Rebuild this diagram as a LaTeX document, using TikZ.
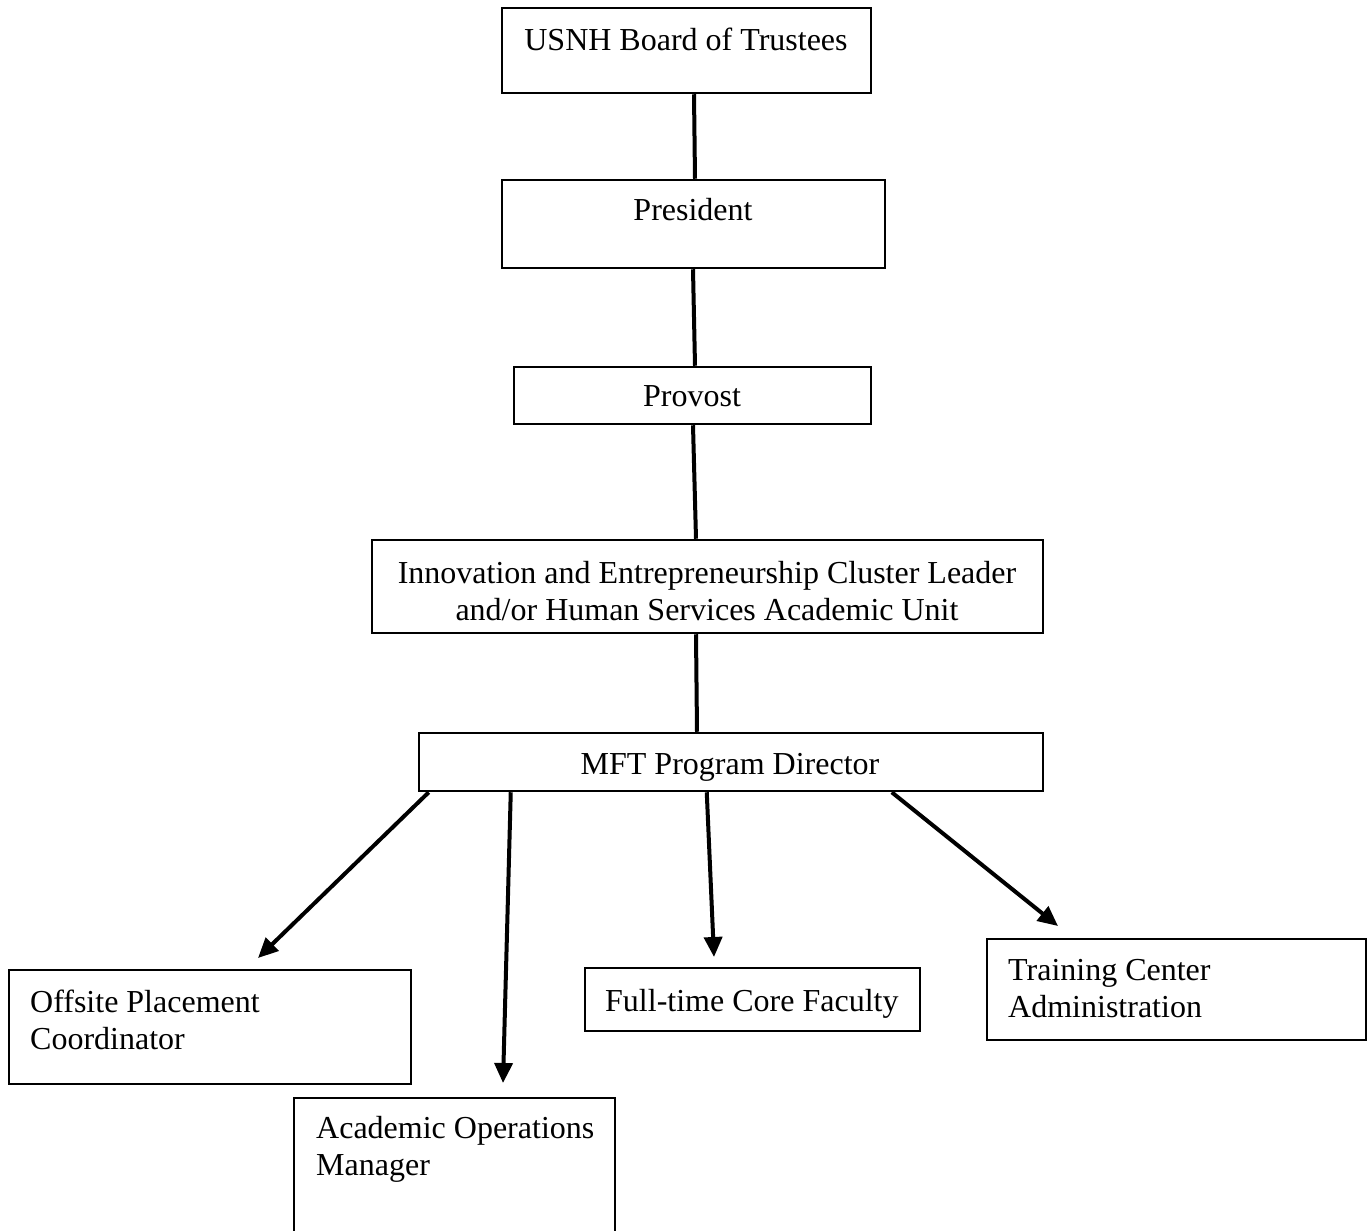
\documentclass[tikz,border=0pt]{standalone}
\usepackage{fontspec}
\setmainfont{Liberation Serif}
\usetikzlibrary{arrows.meta,calc}
\begin{document}
\begin{tikzpicture}[x=1pt,y=-1pt,
  boxst/.style={draw=black,line width=2.5pt,inner sep=0pt,rectangle},
  txt/.style={inner sep=0pt,font=\fontsize{32}{37}\selectfont,align=left},
  link/.style={line width=4pt},
  arr/.style={line width=4pt,-{Triangle[length=20pt,width=18pt]}}]
\useasboundingbox (0,0) rectangle (1369,1231);
% boxes
\node[boxst,minimum width=369pt,minimum height=85pt] (b1) at (686.5,50.5) {};
\node[boxst,minimum width=383pt,minimum height=88pt] (b2) at (693.5,224) {};
\node[boxst,minimum width=357pt,minimum height=57pt] (b3) at (692.5,395.5) {};
\node[boxst,minimum width=671pt,minimum height=93pt] (b4) at (707.5,586.5) {};
\node[boxst,minimum width=624pt,minimum height=58pt] (b5) at (731,762) {};
\node[boxst,minimum width=402pt,minimum height=114pt] (b6) at (210,1027) {};
\node[boxst,minimum width=321pt,minimum height=135pt] (b7) at (454.5,1165.5) {};
\node[boxst,minimum width=335pt,minimum height=63pt] (b8) at (752.5,999.5) {};
\node[boxst,minimum width=379pt,minimum height=101pt] (b9) at (1176.5,989.5) {};
% texts (base of multi-line nodes is the last line's baseline)
\node[txt,anchor=base] (t1) at (686,51) {USNH Board of Trustees};
\node[txt,anchor=base] (t2) at (693,220) {President};
\node[txt,anchor=base] (t3) at (692,406) {Provost};
\node[txt,anchor=base,align=center] (t4) at (707,620) {Innovation and Entrepreneurship Cluster Leader\\and/or Human Services Academic Unit};
\node[txt,anchor=base] (t5) at (730,774) {MFT Program Director};
\node[txt,anchor=base west] (t6) at (30,1049) {Offsite Placement\\Coordinator};
\node[txt,anchor=base west] (t7) at (316,1175) {Academic Operations\\Manager};
\node[txt,anchor=base west] (t8) at (605,1011) {Full-time Core Faculty};
\node[txt,anchor=base west] (t9) at (1008,1017) {Training Center\\Administration};
% arrow tips (free ends)
\coordinate (e6) at (258,958);
\coordinate (e7) at (503,1083);
\coordinate (e8) at (714,957);
\coordinate (e9) at (1058,926);
% connectors
\draw[link] ([xshift=7.5pt]b1.south) -- ([xshift=1.5pt]b2.north);
\draw[link] ([xshift=-0.5pt]b2.south) -- ([xshift=2.5pt]b3.north);
\draw[link] ([xshift=0.5pt]b3.south) -- ([xshift=-11.5pt]b4.north);
\draw[link] ([xshift=-11.5pt]b4.south) -- ([xshift=-34pt]b5.north);
\draw[arr] ([xshift=11pt]b5.south west) -- (e6);
\draw[arr] ([xshift=93pt]b5.south west) -- (e7);
\draw[arr] ([xshift=289pt]b5.south west) -- (e8);
\draw[arr] ([xshift=474pt]b5.south west) -- (e9);
\end{tikzpicture}
\end{document}
